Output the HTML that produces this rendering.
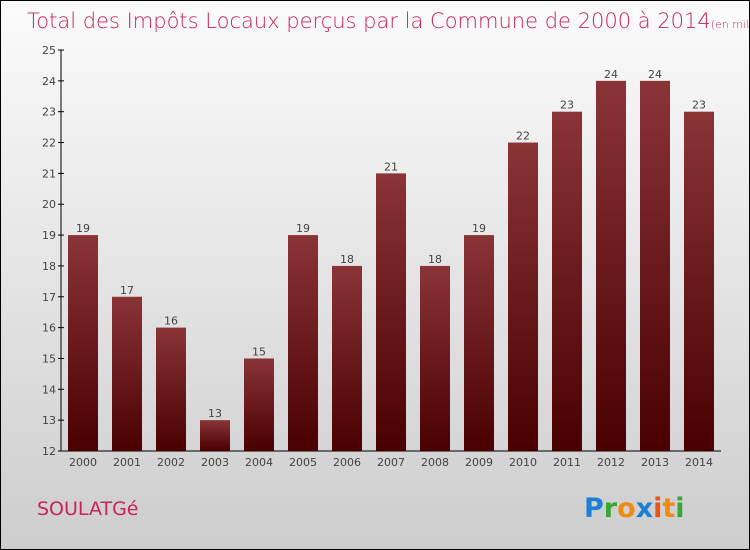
<!DOCTYPE html>
<html><head><meta charset="utf-8"><style>
body{margin:0}
#c{position:relative;width:748px;height:548px;border:1px solid #000;background:linear-gradient(#fbfbfb,#cdcdcd);font-family:"DejaVu Sans","Liberation Sans",sans-serif;overflow:hidden}
</style></head><body>
<div id="c">
<svg width="748" height="548">
<defs><linearGradient id="bg" x1="0" y1="0" x2="0" y2="1"><stop offset="0" stop-color="#8a3437"/><stop offset="1" stop-color="#4a0000"/></linearGradient></defs>
<text x="26" y="27" font-size="21" fill="#c8245a" font-weight="200">Total des Impôts Locaux perçus par la Commune de 2000 à 2014<tspan font-size="11">(en milliers d'€)</tspan></text>
<g id="g"></g>
<text x="36" y="514" font-size="19" fill="#c8245a">SOULATGé</text>
<text x="583" y="516" font-size="27" font-weight="bold"><tspan fill="#1b7fd6">P</tspan><tspan fill="#3aa635">r</tspan><tspan fill="#f08a12">o</tspan><tspan fill="#1b7fd6">x</tspan><tspan fill="#e8541b">i</tspan><tspan fill="#f08a12">t</tspan><tspan fill="#3aa635">i</tspan></text>
</svg>
</div>
<script>
const years=["2000","2001","2002","2003","2004","2005","2006","2007","2008","2009","2010","2011","2012","2013","2014"];
const values=[19,17,16,13,15,19,18,21,18,19,22,23,24,24,23];
const ticks=[12,13,14,15,16,17,18,19,20,21,22,23,24,25];
const NS="http://www.w3.org/2000/svg",g=document.getElementById('g');
const x0=60,band=44,yMin=12,yMax=25,yTop=49,yBot=450;
const y=v=>yBot-(v-yMin)/(yMax-yMin)*(yBot-yTop);
function mk(t,a,txt){const e=document.createElementNS(NS,t);for(const k in a)e.setAttribute(k,a[k]);if(txt!=null)e.textContent=txt;g.appendChild(e);return e;}
let e=mk('line',{x1:x0,y1:yTop,x2:x0,y2:yBot,stroke:'#000'});

e=mk('line',{x1:x0,y1:yBot,x2:x0+band*years.length,y2:yBot,stroke:'#000'});

ticks.forEach(t=>{
 let l=mk('line',{x1:x0-3,y1:y(t),x2:x0+3,y2:y(t),stroke:'#000'});
 
 let s=mk('text',{x:x0-5,y:y(t)+4,'font-size':11,fill:'#444','text-anchor':'end'},t);
 
});
years.forEach((yr,i)=>{
 const cx=x0+band*i+band/2,v=values[i];
 let r=mk('rect',{x:cx-15,y:y(v),width:30,height:yBot-y(v),fill:'url(#bg)'});
 
 let s=mk('text',{x:cx,y:y(v)-3,'font-size':11,fill:'#444','text-anchor':'middle'},v);
 
 s=mk('text',{x:cx,y:yBot+15,'font-size':11,fill:'#444','text-anchor':'middle'},yr);
 
});
</script>
</body></html>
